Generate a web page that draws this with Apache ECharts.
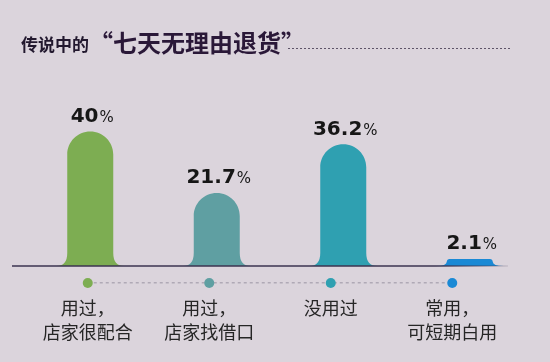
<!DOCTYPE html>
<html lang="zh-CN">
<head>
    <meta charset="UTF-8">
    <title>七天无理由退货</title>
    <script src="https://cdn.jsdelivr.net/npm/echarts@6/dist/echarts.min.js"></script>
    <style>
        html, body { margin: 0; padding: 0; background: #dbd4dc; }
        #main { width: 550px; height: 362px; }
    </style>
</head>
<body>
<div id="main"></div>
<script>
    // 数据
    var categories = ['用过，\n店家很配合', '用过，\n店家找借口', '没用过', '常用，\n可短期白用'];
    var values = [40, 21.7, 36.2, 2.1];
    var colors = ['#7dad52', '#5f9fa2', '#2fa0b1', '#1a89d5'];

    var myChart = echarts.init(document.getElementById('main'));

    // 钟形柱子
    var renderBell = function (params, api) {
        var v = api.value(1);
        var base = api.coord([api.value(0), 0]);
        var top = api.coord([api.value(0), v]);
        var cx = base[0], y0 = base[1], yt = top[1];
        var h = y0 - yt;
        var hw = 23, f = 11;
        var fh = Math.min(13, h * 0.6);
        var rr = Math.min(hw, h - fh);
        var k = 0.5523;
        var d = 'M' + (cx - hw - f) + ',' + y0 +
            ' Q' + (cx - hw) + ',' + y0 + ' ' + (cx - hw) + ',' + (y0 - fh) +
            ' L' + (cx - hw) + ',' + (yt + rr) +
            ' C' + (cx - hw) + ',' + (yt + rr - k * rr) + ' ' + (cx - hw + rr - k * rr) + ',' + yt + ' ' + (cx - hw + rr) + ',' + yt +
            ' L' + (cx + hw - rr) + ',' + yt +
            ' C' + (cx + hw - rr + k * rr) + ',' + yt + ' ' + (cx + hw) + ',' + (yt + rr - k * rr) + ' ' + (cx + hw) + ',' + (yt + rr) +
            ' L' + (cx + hw) + ',' + (y0 - fh) +
            ' Q' + (cx + hw) + ',' + y0 + ' ' + (cx + hw + f) + ',' + y0 + ' Z';
        return {
            type: 'group',
            children: [{
                type: 'path',
                shape: {pathData: d},
                style: {fill: colors[params.dataIndex]}
            }, {
                type: 'text',
                style: {
                    text: '{n|' + v + '}{p|%}',
                    x: cx + 2,
                    y: yt - 5,
                    align: 'center',
                    verticalAlign: 'bottom',
                    rich: {
                        n: {fontSize: 20, fontWeight: 'bold', fontFamily: 'DejaVu Sans', fill: '#161616', verticalAlign: 'bottom'},
                        p: {fontSize: 15, fontFamily: 'DejaVu Sans', fill: '#161616', verticalAlign: 'bottom', padding: [0, 0, 1, 1]}
                    }
                }
            }]
        };
    };

    var option = {
        backgroundColor: '#dbd4dc',
        title: {
            left: 16,
            top: 26,
            text: '{a|传说中的}{b|“七天无理由退货”}',
            textStyle: {
                rich: {
                    a: {fontSize: 17, fontWeight: 'bold', color: '#22182e', fontFamily: 'Noto Sans CJK SC', verticalAlign: 'bottom', padding: [0, 0, 2, 0]},
                    b: {fontSize: 24, fontWeight: 'bold', color: '#2a1838', fontFamily: 'Noto Sans CJK SC', verticalAlign: 'bottom'}
                }
            }
        },
        grid: [
            {left: 27, right: 17, top: 98, bottom: 96},
            {left: 27, right: 37, top: 273, bottom: 79}
        ],
        xAxis: [
            {type: 'category', gridIndex: 0, data: categories, show: false},
            {
                type: 'category',
                gridIndex: 1,
                data: categories,
                axisLine: {show: false},
                axisTick: {show: false},
                axisLabel: {
                    margin: 13,
                    fontSize: 18,
                    lineHeight: 24,
                    color: '#262626',
                    fontFamily: 'Noto Sans CJK SC'
                }
            }
        ],
        yAxis: [
            {type: 'value', gridIndex: 0, min: 0, max: 50, show: false},
            {type: 'value', gridIndex: 1, min: 0, max: 1, show: false}
        ],
        graphic: [
            {
                type: 'line',
                shape: {x1: 288, y1: 48.5, x2: 510, y2: 48.5},
                style: {stroke: '#5e5468', lineWidth: 1, lineDash: [2, 2]}
            },
            {
                type: 'line',
                z: 10,
                shape: {x1: 12, y1: 266, x2: 508, y2: 266},
                style: {
                    lineWidth: 1.5,
                    stroke: new echarts.graphic.LinearGradient(0, 0, 1, 0, [
                        {offset: 0, color: '#3b3350'},
                        {offset: 0.85, color: '#3b3350'},
                        {offset: 1, color: 'rgba(59,51,80,0.1)'}
                    ])
                }
            }
        ],
        series: [
            {
                type: 'custom',
                xAxisIndex: 0,
                yAxisIndex: 0,
                renderItem: renderBell,
                encode: {x: 0, y: 1},
                data: values.map(function (v, i) { return [i, v]; })
            },
            {
                type: 'line',
                xAxisIndex: 1,
                yAxisIndex: 1,
                symbol: 'circle',
                symbolSize: 10,
                silent: true,
                lineStyle: {type: [3, 3], color: '#857f8f', width: 1.2},
                data: values.map(function (v, i) {
                    return {value: 0, itemStyle: {color: colors[i]}};
                })
            }
        ]
    };
    myChart.setOption(option);
</script>
</body>
</html>
